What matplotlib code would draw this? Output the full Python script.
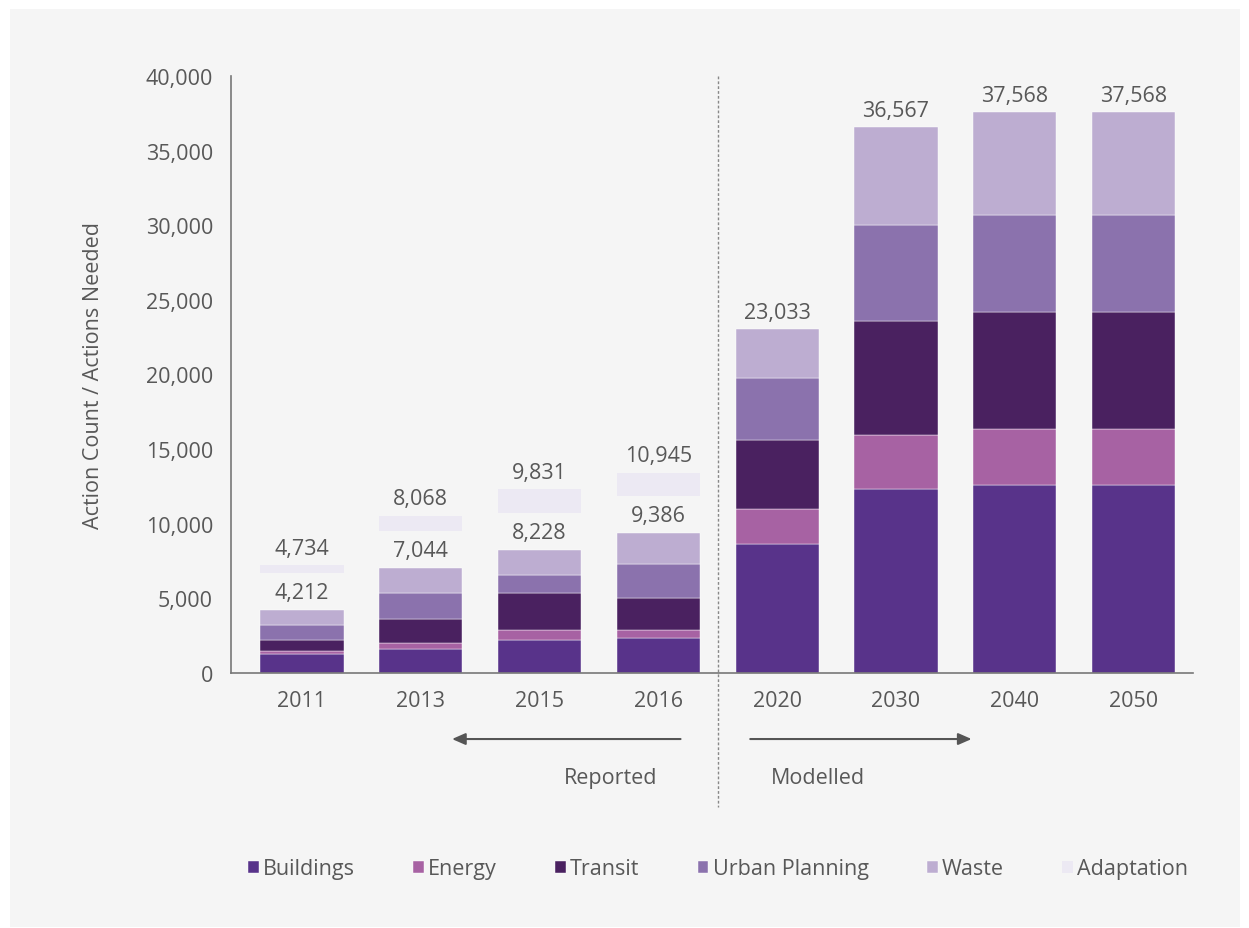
import matplotlib
matplotlib.use("Agg")
import matplotlib.pyplot as plt
from matplotlib.patches import Rectangle
import numpy as np

plt.rcParams['font.family'] = ['Open Sans', 'DejaVu Sans']

years = ["2011", "2013", "2015", "2016", "2020", "2030", "2040", "2050"]
buildings = [1300, 1610, 2210, 2350, 8670, 12300, 12620, 12620]
energy = [180, 400, 670, 530, 2330, 3650, 3730, 3730]
transit = [760, 1610, 2480, 2150, 4640, 7650, 7840, 7840]
urban_planning = [1000, 1740, 1200, 2260, 4100, 6390, 6490, 6490]
waste = [972, 1684, 1668, 2096, 3293, 6577, 6888, 6888]
totals = [4212, 7044, 8228, 9386, 23033, 36567, 37568, 37568]
adaptation = [522, 1024, 1603, 1559]
totals_with_adaptation = [4734, 8068, 9831, 10945]
adaptation_gap = 2480

series_names = ["Buildings", "Energy", "Transit", "Urban Planning", "Waste", "Adaptation"]
colors = ["#58338A", "#A762A3", "#4A2160", "#8B72AD", "#BDADD1", "#ECE9F3"]

text_color = "#585858"
fs = 15.5

fig = plt.figure(figsize=(12.49, 9.29), dpi=100)
fig.patch.set_facecolor("white")
fig.patches.append(Rectangle((10/1249, 1/929), 1230/1249, 918/929, transform=fig.transFigure,
                             facecolor="#F5F5F5", edgecolor="none", zorder=-10))

ax = fig.add_axes([231/1249, (929-674)/929, (1193-231)/1249, 597/929])
ax.set_facecolor("#F5F5F5")
ax.patch.set_alpha(0)

x = np.arange(len(years))
w = 0.70
bottom = np.zeros(len(years))
handles = []
for vals, name, c in zip([buildings, energy, transit, urban_planning, waste], series_names[:5], colors[:5]):
    b = ax.bar(x, vals, w, bottom=bottom, color=c, label=name, edgecolor="white", linewidth=0.3)
    handles.append(b)
    bottom += np.array(vals)

xa = x[:len(adaptation)]
adapt_bottom = np.array(totals[:len(adaptation)]) + adaptation_gap
b = ax.bar(xa, adaptation, w, bottom=adapt_bottom, color=colors[5], label="Adaptation")
handles.append(b)

for i, t in enumerate(totals):
    ax.text(x[i], bottom[i] + 450, f"{t:,}", ha="center", va="bottom", fontsize=fs, color=text_color)
for i, t in enumerate(totals_with_adaptation):
    ax.text(xa[i], adapt_bottom[i] + adaptation[i] + 450, f"{t:,}", ha="center", va="bottom",
            fontsize=fs, color=text_color)

ax.set_xlim(-0.597, 7.5)
ax.set_ylim(0, 40000)
ax.set_yticks(np.arange(0, 40001, 5000))
ax.set_yticklabels([f"{v:,}" for v in range(0, 40001, 5000)])
ax.set_xticks(x)
ax.set_xticklabels(years)
ax.tick_params(axis="both", length=0, labelsize=fs, labelcolor=text_color)
ax.tick_params(axis="x", pad=12)
ax.tick_params(axis="y", pad=13)
for s in ["top", "right"]:
    ax.spines[s].set_visible(False)
for s in ["left", "bottom"]:
    ax.spines[s].set_color("#777777")
    ax.spines[s].set_linewidth(1.2)

ax.set_ylabel("Action Count / Actions Needed", fontsize=fs, color=text_color, labelpad=30)

trans = ax.get_xaxis_transform()
ax.plot([3.5, 3.5], [1.0, -0.224], transform=trans, clip_on=False, color="#888888",
        linestyle=(0, (2, 1.5)), linewidth=1)

ax.annotate("", xy=(1.24, -0.1106), xytext=(3.21, -0.1106), xycoords=trans, textcoords=trans,
            arrowprops=dict(arrowstyle="-|>,head_length=0.8,head_width=0.35", color="#555555", lw=1.5),
            annotation_clip=False)
ax.annotate("", xy=(5.66, -0.1106), xytext=(3.75, -0.1106), xycoords=trans, textcoords=trans,
            arrowprops=dict(arrowstyle="-|>,head_length=0.8,head_width=0.35", color="#555555", lw=1.5),
            annotation_clip=False)
ax.text(2.60, -0.1755, "Reported", transform=trans, ha="center", va="center", fontsize=fs, color=text_color)
ax.text(4.34, -0.1755, "Modelled", transform=trans, ha="center", va="center", fontsize=fs, color=text_color)

leg = fig.legend(handles=handles, labels=series_names, loc="center", bbox_to_anchor=(718/1249, (929-870)/929),
                 ncol=6, frameon=False, fontsize=fs, handlelength=0.5, handleheight=0.5,
                 handletextpad=0.2, columnspacing=2.7, labelcolor=text_color)

fig.savefig("out.png", dpi=100, facecolor=fig.get_facecolor())
